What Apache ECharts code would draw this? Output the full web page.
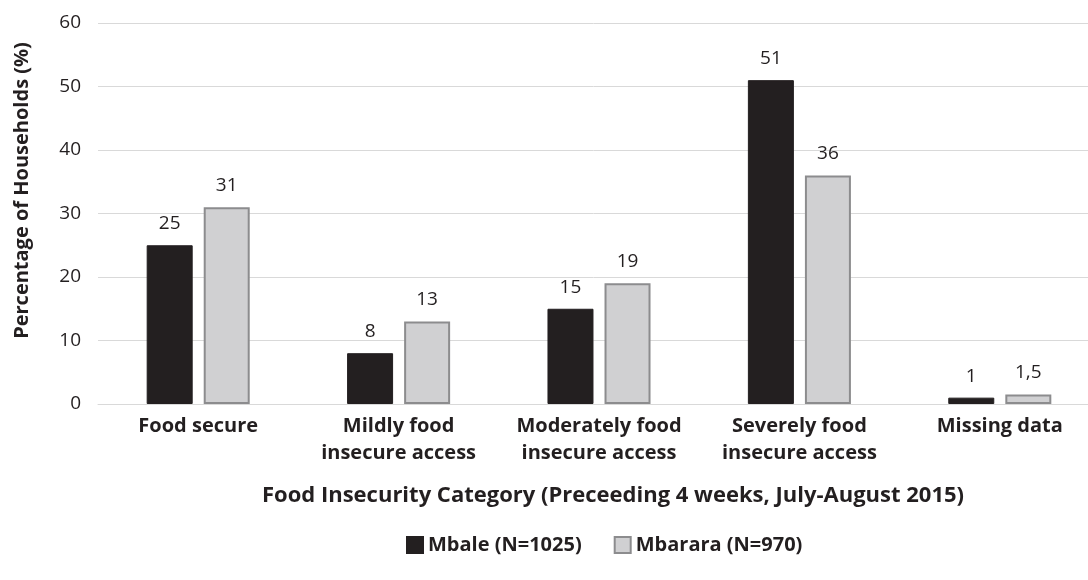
<!DOCTYPE html>
<html>
<head>
<meta charset="utf-8">
<script src="https://cdn.jsdelivr.net/npm/echarts@6/dist/echarts.min.js"></script>
<style>
  html, body { margin: 0; padding: 0; background: #fff; }
  #chart { width: 1088px; height: 580px; }
</style>
</head>
<body>
<div id="chart"></div>
<script>
// food insecurity categories, preceding 4 weeks
const categories = [
  'Food secure',
  'Mildly food\ninsecure access',
  'Moderately food\ninsecure access',
  'Severely food\ninsecure access',
  'Missing data'
];
const mbale = [25, 8, 15, 51, 1];
const mbarara = [31, 13, 19, 36, 1.5];
const yTicks = { min: 0, max: 60, interval: 10 };

const font = '"Open Sans", "Liberation Sans", sans-serif';

const chart = echarts.init(document.getElementById('chart'));

const labelFmt = (p) => String(p.value).replace('.', ',');

chart.setOption({
  animation: false,
  textStyle: { fontFamily: font },
  grid: {
    left: 98, top: 23, width: 1002, bottom: 176,
    containLabel: false, outerBoundsMode: 'none'
  },
  legend: {
    bottom: 20,
    left: 401,
    itemWidth: 16,
    itemHeight: 16,
    itemGap: 32,
    textStyle: { fontFamily: font, fontSize: 20, fontWeight: 'bold', color: '#231f20' },
    data: [
      { name: 'Mbale (N=1025)', icon: 'rect' },
      { name: 'Mbarara (N=970)', icon: 'rect' }
    ]
  },
  xAxis: {
    type: 'category',
    data: categories,
    name: 'Food Insecurity Category (Preceeding 4 weeks, July-August 2015)',
    nameLocation: 'middle',
    nameGap: 81,
    nameTextStyle: {
      fontFamily: font, fontSize: 22, fontWeight: 'bold', color: '#231f20',
      padding: [0, 0, 0, 28]
    },
    axisLine: { lineStyle: { color: '#d9d9d9', width: 1 } },
    axisTick: { show: false },
    axisLabel: {
      fontFamily: font,
      fontSize: 20,
      fontWeight: 'bold',
      color: '#231f20',
      lineHeight: 27,
      margin: 9,
      interval: 0
    }
  },
  yAxis: {
    type: 'value',
    min: yTicks.min,
    max: yTicks.max,
    interval: yTicks.interval,
    name: 'Percentage of Households (%)',
    nameLocation: 'middle',
    nameGap: 66,
    nameRotate: 90,
    nameTextStyle: {
      fontFamily: font, fontSize: 20, fontWeight: 'bold', color: '#231f20',
      padding: [0, 0, 0, 46]
    },
    axisLine: { show: false },
    axisTick: { show: false },
    axisLabel: { fontFamily: font, fontSize: 19, color: '#231f20', margin: 17 },
    splitLine: { lineStyle: { color: '#d9d9d9', width: 1 } }
  },
  series: [
    {
      name: 'Mbale (N=1025)',
      type: 'bar',
      data: mbale,
      barWidth: 46,
      barGap: '24%',
      itemStyle: { color: '#231f20', borderColor: '#231f20', borderWidth: 1 },
      label: {
        show: true, position: 'top', distance: 12,
        fontFamily: font, fontSize: 19, color: '#231f20', formatter: labelFmt
      }
    },
    {
      name: 'Mbarara (N=970)',
      type: 'bar',
      data: mbarara,
      barWidth: 46,
      itemStyle: { color: '#d0d0d2', borderColor: '#8c8c8e', borderWidth: 2 },
      label: {
        show: true, position: 'top', distance: 12,
        fontFamily: font, fontSize: 19, color: '#231f20', formatter: labelFmt
      }
    }
  ]
});
window.addEventListener('resize', () => { chart.resize(); });
</script>
</body>
</html>
